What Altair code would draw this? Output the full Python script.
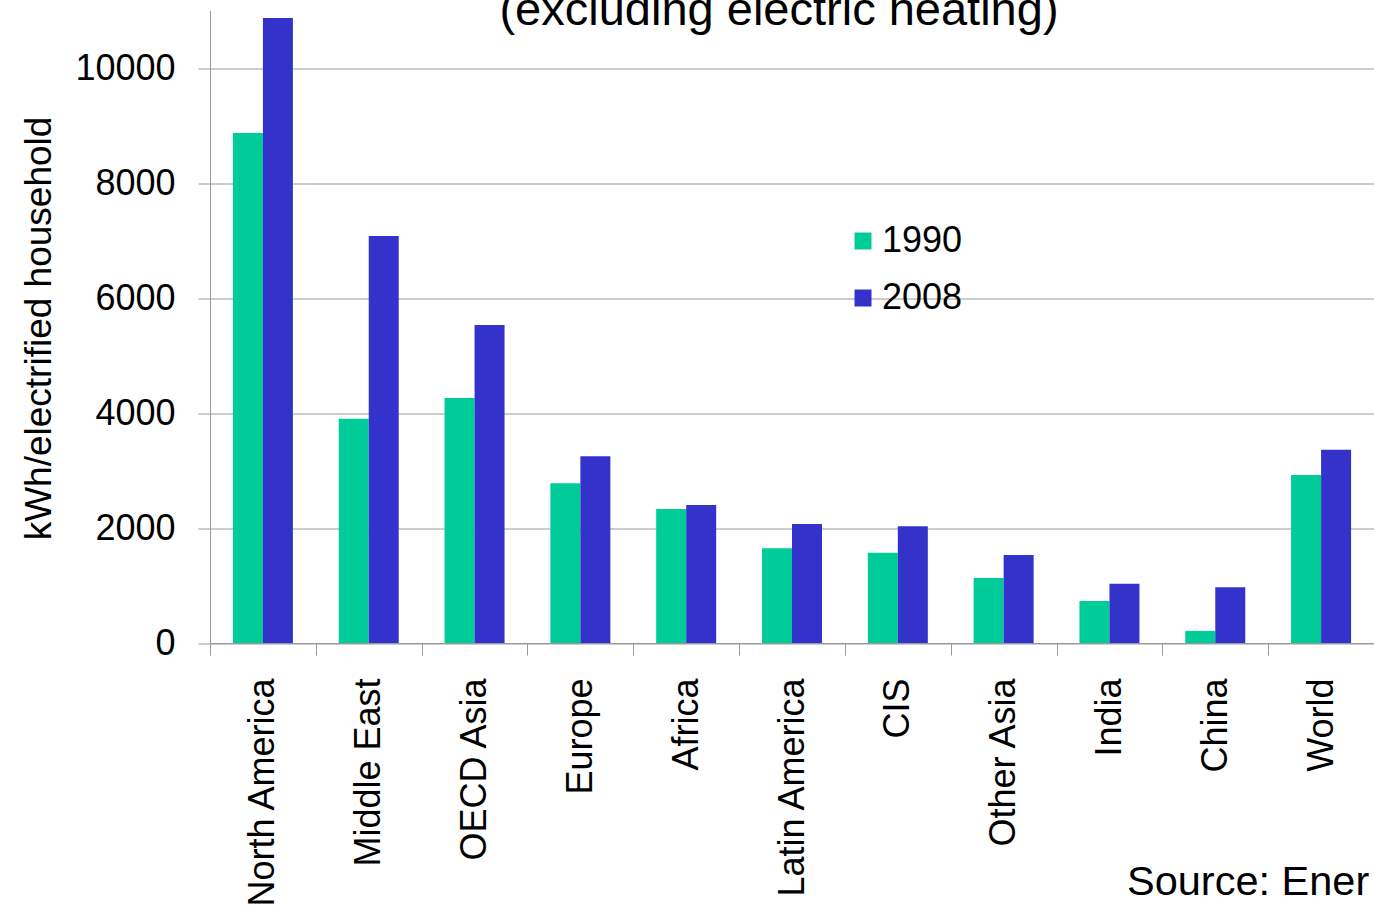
import altair as alt
import pandas as pd

regions = ["North America", "Middle East", "OECD Asia", "Europe", "Africa",
           "Latin America", "CIS", "Other Asia", "India", "China", "World"]
v1990 = [8870, 3900, 4260, 2780, 2330, 1650, 1570, 1130, 730, 210, 2920]
v2008 = [10870, 7080, 5530, 3250, 2400, 2070, 2030, 1530, 1030, 970, 3360]
years = ["1990", "2008"]
colors = ["#00CC99", "#3333CC"]
y_ticks = [0, 2000, 4000, 6000, 8000, 10000]
title_text = "(excluding electric heating)"
source_text = "Source: Ener"
y_title = "kWh/electrified household"

rows = []
for r, a, b in zip(regions, v1990, v2008):
    rows.append({"region": r, "year": years[0], "value": a})
    rows.append({"region": r, "year": years[1], "value": b})
df = pd.DataFrame(rows)

FONT = "Liberation Sans"
GRAY = "#9a9a9a"
STEP = 1164 / 11

bars = alt.Chart(df).mark_bar().encode(
    x=alt.X("region:N", sort=regions,
            scale=alt.Scale(paddingInner=0.433, paddingOuter=0.2165),
            axis=alt.Axis(title=None, labelAngle=270, labelAlign="right",
                          labelBaseline="middle", labelFontSize=36,
                          labelFont=FONT, labelColor="black", labelPadding=23,
                          labelLimit=500, tickOffset=-STEP / 2,
                          labelOffset=STEP / 2, tickSize=12,
                          tickColor=GRAY, domainColor=GRAY, grid=False)),
    xOffset=alt.XOffset("year:N", sort=years),
    y=alt.Y("value:Q", scale=alt.Scale(domain=[0, 11000], nice=False),
            axis=alt.Axis(values=y_ticks, format="d", title=y_title,
                          titleFont=FONT, titleFontSize=37,
                          titleFontWeight="normal",
                          titleColor="black", titleAngle=270,
                          titleAlign="center", titleBaseline="alphabetic",
                          titleX=-160, titleY=317.5,
                          labelFontSize=36, labelFont=FONT, labelColor="black",
                          labelPadding=23, tickSize=12, tickColor=GRAY,
                          domainColor=GRAY, gridColor=GRAY, grid=True)),
    color=alt.Color("year:N", sort=years,
                    scale=alt.Scale(domain=years, range=colors),
                    legend=alt.Legend(title=None, orient="none", legendX=635,
                                      legendY=212.5, symbolType="square",
                                      symbolSize=289, symbolStrokeWidth=0,
                                      labelFontSize=36, labelFont=FONT,
                                      labelColor="black", labelOffset=1,
                                      rowPadding=21, padding=0)),
)

title = alt.Chart(pd.DataFrame({"t": [title_text]})).mark_text(
    font=FONT, fontSize=47, align="center", baseline="alphabetic", color="black"
).encode(text="t:N", x=alt.value(569), y=alt.value(14.5))

source = alt.Chart(pd.DataFrame({"t": [source_text]})).mark_text(
    font=FONT, fontSize=41.5, align="left", baseline="alphabetic", color="black"
).encode(text="t:N", x=alt.value(917), y=alt.value(884.5))

chart = alt.layer(bars, title, source).properties(
    width=1164, height=632.5,
    padding={"left": 210, "top": 10.5, "right": 0, "bottom": 265},
    autosize=alt.AutoSizeParams(type="none"),
    background="white",
).configure_view(stroke=None)

chart.save("out.html", embed_options={"renderer": "svg", "actions": False})
